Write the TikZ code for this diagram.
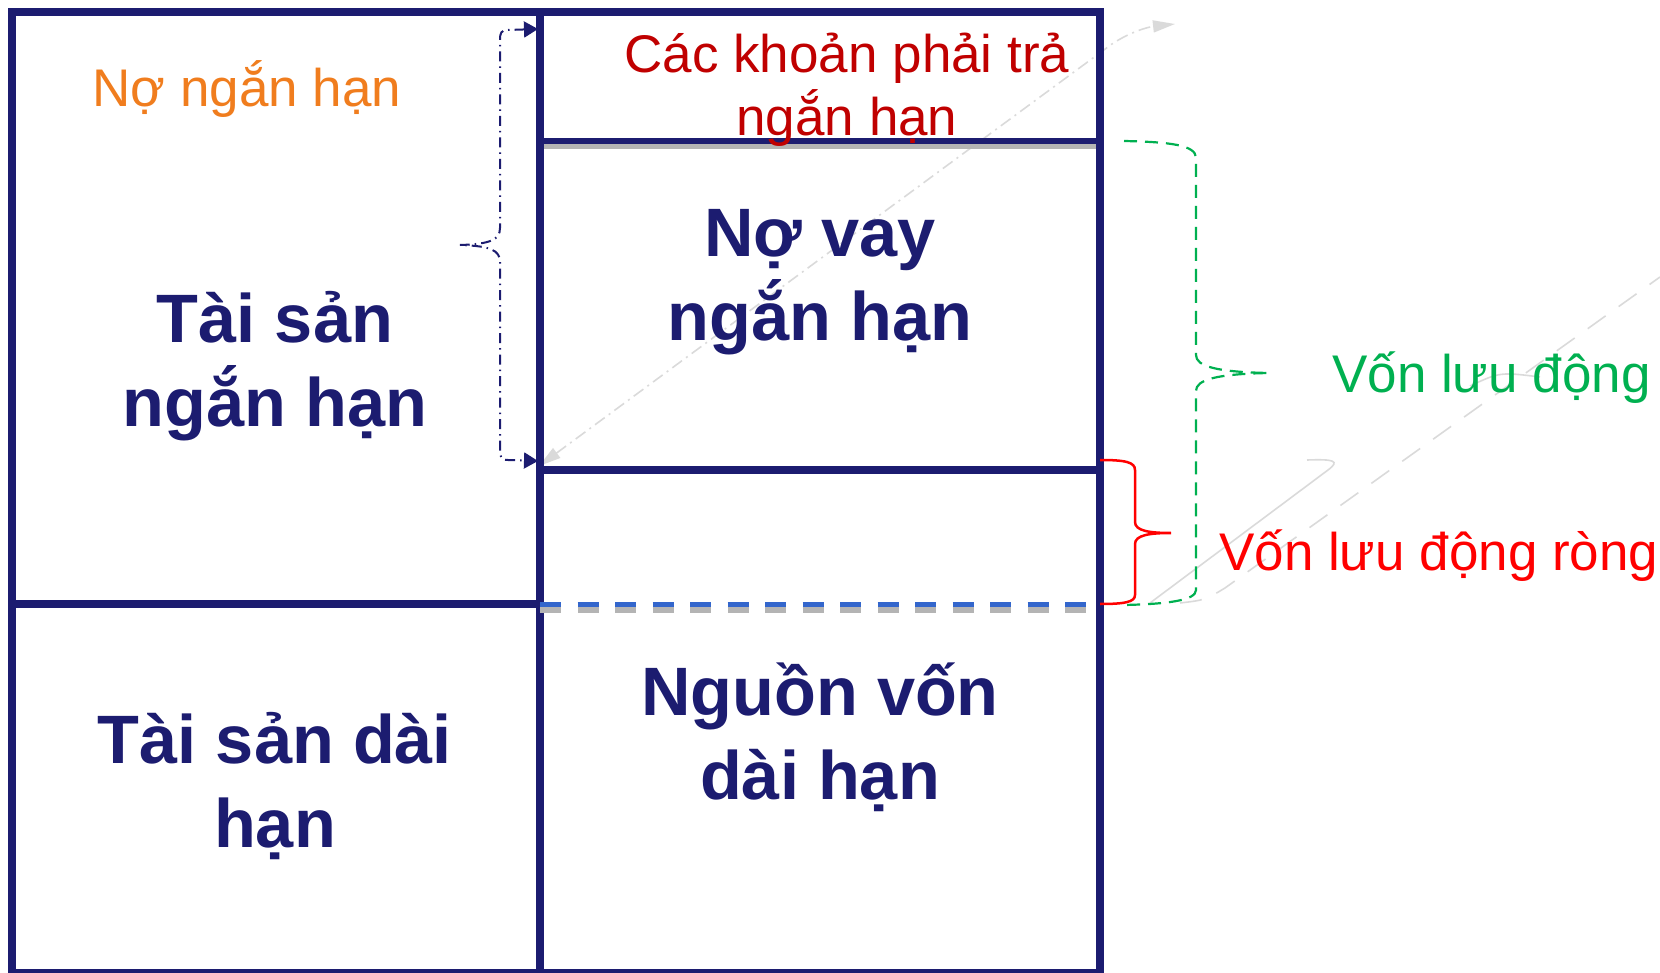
\documentclass[tikz,border=0pt]{standalone}
\usepackage{fontspec}
\setmainfont{Liberation Sans}
\usetikzlibrary{arrows.meta}

\definecolor{navy}{RGB}{28,28,112}
\definecolor{darkred}{RGB}{192,0,0}
\definecolor{brightred}{RGB}{255,0,0}
\definecolor{orangetxt}{RGB}{240,125,30}
\definecolor{greentxt}{RGB}{0,176,80}
\definecolor{dashblue}{RGB}{51,102,204}
\definecolor{shadowgray}{RGB}{180,180,180}
\definecolor{tracegray}{RGB}{218,218,218}

\tikzset{
  frame/.style={draw=navy, line width=8pt},
  shadowline/.style={draw=shadowgray, line width=5.5pt},
  % multi-line nodes: anchor=base sits on the baseline of the last line
  bigtext/.style={font=\fontsize{68.5}{84}\selectfont\bfseries, text=navy, align=center, anchor=base, inner sep=0pt},
  smalltext/.style={font=\fontsize{53}{63}\selectfont, align=center, anchor=base, inner sep=0pt},
  navybrace/.style={draw=navy, line width=2pt, dash pattern=on 10pt off 5pt on 1.5pt off 5pt,
    {Triangle[length=14pt,width=16pt]}-{Triangle[length=14pt,width=16pt]}},
  greenbrace/.style={draw=greentxt, line width=2.2pt, dash pattern=on 13pt off 8pt},
  redbrace/.style={draw=brightred, line width=2.5pt},
  trace/.style={draw=tracegray, line width=1.6pt},
  tracetip/.style={trace, {Triangle[length=22pt,width=12pt,fill=tracegray]}-{Triangle[length=22pt,width=12pt,fill=tracegray]}}
}

\begin{document}
\begin{tikzpicture}[x=1pt,y=-1pt]
\useasboundingbox (0,0) rectangle (1660,973);

% faint traces of animation paths
\draw[tracetip, dash pattern=on 12pt off 5pt on 2pt off 5pt]
  (539,466) -- (1112,44) .. controls (1130,32) and (1148,27) .. (1175,24);
\draw[trace] (1150,603) -- (1328,470) .. controls (1340,461) and (1335,459) .. (1307,460);
\draw[trace, dash pattern=on 22pt off 16pt]
  (1180,603) .. controls (1205,600) .. (1225,588) -- (1660,277);
\draw[trace] (1470,386) .. controls (1500,372) .. (1540,377);

% corner and junction points of the balance sheet
\coordinate (TL) at (12,12);
\coordinate (BR) at (1100,973);
\coordinate (MT) at (540,12);
\coordinate (MB) at (540,973);
\coordinate (L1) at (12,604);
\coordinate (M1) at (540,604);
\coordinate (A1) at (540,141);
\coordinate (B1) at (1100,141);
\coordinate (A2) at (540,470);
\coordinate (B2) at (1100,470);

% outer frame and cell dividers
\draw[shadowline] (540,146.5) -- (1100,146.5);
\draw[frame] (TL) rectangle (BR);
\draw[frame] (MT) -- (MB);
\draw[frame] (L1) -- (M1);
\draw[draw=navy, line width=6pt] (A1) -- (B1);
\draw[frame] (A2) -- (B2);

% dashed boundary of long-term funding
\draw[draw=shadowgray, line width=5.3pt, dash pattern=on 21pt off 16.5pt] (540,610) -- (1086,610);
\draw[draw=dashblue, line width=5pt, dash pattern=on 21pt off 16.5pt] (540,604.8) -- (1086,604.8);

% texts
\node[smalltext, text=orangetxt] (nnh) at (247,107) {Nợ ngắn hạn};
\node[bigtext] (tsnh) at (275,426) {Tài sản\\ngắn hạn};
\node[bigtext] (tsdh) at (275,847) {Tài sản dài\\hạn};
\node[smalltext, text=darkred] (ckpt) at (847,136) {Các khoản phải trả\\ngắn hạn};
\node[bigtext] (nvnh) at (820,341) {Nợ vay\\ngắn hạn};
\node[bigtext] (nvdh) at (820,799) {Nguồn vốn\\dài hạn};
\node[smalltext, text=greentxt, anchor=base west] (vld) at (1332,393) {Vốn lưu động};
\node[smalltext, text=brightred, anchor=base west] (vldr) at (1219,570) {Vốn lưu động ròng};

% brace: short-term debt covers payables and short-term loans
\coordinate (nbTop) at (538,29);
\coordinate (nbBot) at (538,461);
\draw[navybrace] (nbTop) -- (508,30) .. controls (501,30) and (500,33) .. (500,40)
  -- (500,228) .. controls (500,240) and (490,244) .. (460,245)
  .. controls (490,246) and (500,250) .. (500,262)
  -- (500,450) .. controls (500,457) and (501,460) .. (508,460) -- (nbBot);

% brace: working capital
\coordinate (gTop) at (1124,141);
\coordinate (gBot) at (1124,605);
\draw[greenbrace] (gTop) .. controls (1170,142) and (1196,145) .. (1196,158)
  -- (1196,355) .. controls (1196,366) and (1215,372) .. (1269,373)
  .. controls (1215,374) and (1196,380) .. (1196,391)
  -- (1196,590) .. controls (1196,600) and (1170,604) .. (gBot);

% brace: net working capital
\coordinate (rTop) at (1100,460);
\coordinate (rBot) at (1100,604);
\draw[redbrace] (rTop) .. controls (1125,460) and (1135,462) .. (1135,470)
  -- (1135,522) .. controls (1135,531) and (1150,533) .. (1171,533)
  .. controls (1150,533) and (1135,535) .. (1135,544)
  -- (1135,595) .. controls (1135,602) and (1125,604) .. (rBot);
\end{tikzpicture}
\end{document}
